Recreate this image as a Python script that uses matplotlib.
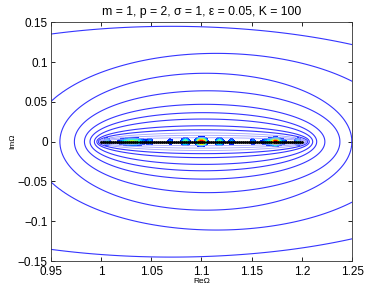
import numpy as np
import matplotlib
matplotlib.use('Agg')
import matplotlib.pyplot as plt

plt.rcParams['font.family'] = ['Liberation Sans', 'DejaVu Sans']

# K = 100 eigenvalues, evenly spread on the real axis between 1 and 1.2
K = 100
eig_lo, eig_hi = 1.0, 1.2
eig_re = np.linspace(eig_lo, eig_hi, K)

# blue contour rings:
# height where each ring crosses the middle (Re = 1.1), its focal half-length
# and how far its centre sits to the right of 1.1
ring_b = [0.011, 0.020, 0.0285, 0.0365, 0.047, 0.064, 0.086, 0.111, 0.145]
ring_c = [0.1025, 0.1038, 0.1048, 0.1067, 0.110, 0.1156, 0.117, 0.148, 0.30]
ring_s = [0.0015, 0.0016, 0.0021, 0.0019, 0.0032, 0.0057, 0.0044, 0.015, -0.03]
blue_rings = [0.015, 0.020, 0.0285, 0.0365, 0.047, 0.064, 0.086, 0.111, 0.145]
faint_rings = [0.005, 0.008, 0.011]

# coloured blobs sitting on the axis: centre, peak (0..1 on jet), half-width
blob_x = [1.006, 1.031, 1.049, 1.069, 1.084, 1.100, 1.118, 1.130, 1.151, 1.172, 1.174, 1.196]
blob_amp = [0.40, 0.55, 0.25, 0.25, 0.50, 0.95, 0.50, 0.30, 0.25, 0.50, 0.45, 0.40]
blob_w = [0.003, 0.012, 0.003, 0.003, 0.004, 0.005, 0.004, 0.003, 0.003, 0.011, 0.003, 0.003]
blob_h = 0.0045

xticks = [0.95, 1, 1.05, 1.1, 1.15, 1.2, 1.25]
yticks = [-0.15, -0.1, -0.05, 0, 0.05, 0.1, 0.15]

centre = 0.5 * (eig_lo + eig_hi)

xs = np.linspace(0.95, 1.25, 801)
ys = np.linspace(-0.15, 0.15, 801)
X, Y = np.meshgrid(xs, ys)

# elliptic "radius": the ring height b whose ellipse passes through each point
lo = np.full(X.shape, 1e-6)
hi = np.full(X.shape, 2.0)
for _ in range(48):
    mid = 0.5 * (lo + hi)
    c = np.interp(mid, ring_b, ring_c)
    s = np.interp(mid, ring_b, ring_s)
    F = (X - centre - s) ** 2 / (mid ** 2 + c ** 2) + Y ** 2 / mid ** 2 - 1.0
    out = F > 0
    lo = np.where(out, mid, lo)
    hi = np.where(out, hi, mid)
R = 0.5 * (lo + hi)

B = np.zeros_like(X)
for bx, ba, bw in zip(blob_x, blob_amp, blob_w):
    B += ba * np.exp(-((X - bx) / bw) ** 2 - (Y / blob_h) ** 2)
B = np.ma.masked_less(B, 0.12)

fig = plt.figure(figsize=(3.9, 2.94), dpi=100)
ax = fig.add_axes([0.13, 0.112, 0.773, 0.812])

ax.contour(X, Y, R, levels=blue_rings, colors='#3535ff', linewidths=0.8)
ax.contour(X, Y, R, levels=faint_rings, colors='#a0a0ff', linewidths=0.6)
ax.contourf(X, Y, B, levels=np.linspace(0.12, 1.0, 12), cmap='jet', vmin=0.0, vmax=1.0)
ax.plot(eig_re, np.zeros_like(eig_re), 'k.-', markersize=2, linewidth=1)

ax.set_xlim(0.95, 1.25)
ax.set_ylim(-0.15, 0.15)
ax.set_xticks(xticks)
ax.set_xticklabels(['%g' % t for t in xticks])
ax.set_yticks(yticks)
ax.set_yticklabels([('%g' % t).replace('-', '\u2212') for t in yticks])
ax.tick_params(direction='in', top=True, right=True, labelsize=8.5, length=3, width=0.6, pad=2)
ax.tick_params(axis='x', pad=3.5)
for sp in ax.spines.values():
    sp.set_linewidth(0.6)
    sp.set_color('#333333')

ax.set_title('m = 1, p = 2, \u03c3 = 1, \u03b5 = 0.05, K = 100', fontsize=8.8, pad=5)
ax.set_xlabel('Re\u03a9', fontsize=6, labelpad=0)
ax.set_ylabel('Im\u03a9', fontsize=6, labelpad=1)

fig.savefig('out.png', dpi=100)
